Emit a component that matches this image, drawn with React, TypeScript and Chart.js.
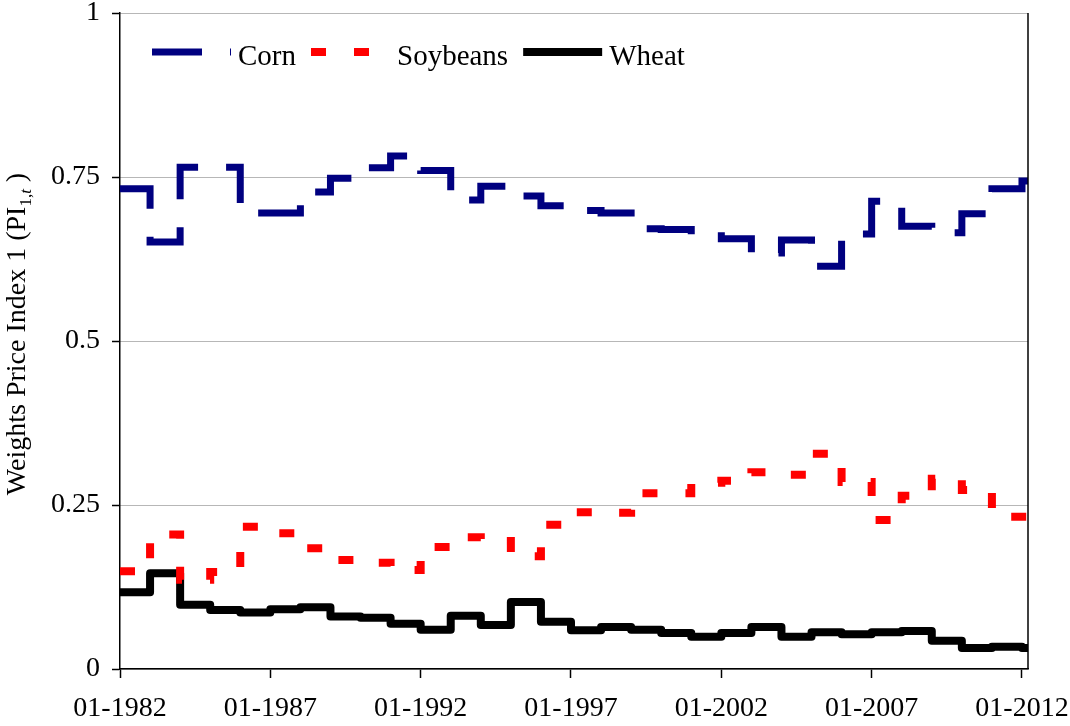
import React, { useEffect, useRef } from "react";
import { Chart, registerables } from "chart.js";

Chart.register(...registerables);

// ---- data (annual weights) ----
const years = [
  1982, 1983, 1984, 1985, 1986, 1987, 1988, 1989, 1990, 1991,
  1992, 1993, 1994, 1995, 1996, 1997, 1998, 1999, 2000, 2001,
  2002, 2003, 2004, 2005, 2006, 2007, 2008, 2009, 2010, 2011, 2012,
];
const endYear = 2012.2; // last observation (early 2012)
const tickYears = [1982, 1987, 1992, 1997, 2002, 2007, 2012];

const corn = [
  0.732, 0.651, 0.765, 0.765, 0.695, 0.695, 0.727, 0.748, 0.764, 0.782,
  0.760, 0.715, 0.736, 0.721, 0.706, 0.699, 0.695, 0.671, 0.670, 0.668,
  0.656, 0.634, 0.654, 0.614, 0.663, 0.713, 0.675, 0.665, 0.694, 0.732, 0.744,
];
const soybeans = [
  0.149, 0.205, 0.136, 0.148, 0.217, 0.207, 0.184, 0.166, 0.162, 0.151,
  0.186, 0.201, 0.195, 0.172, 0.220, 0.239, 0.238, 0.268, 0.268, 0.284,
  0.287, 0.300, 0.296, 0.328, 0.285, 0.227, 0.264, 0.290, 0.273, 0.232, 0.232,
];
const wheat = [
  0.117, 0.146, 0.098, 0.090, 0.086, 0.091, 0.094, 0.080, 0.078, 0.069,
  0.060, 0.081, 0.067, 0.102, 0.072, 0.059, 0.064, 0.060, 0.055, 0.049,
  0.055, 0.064, 0.049, 0.056, 0.053, 0.056, 0.058, 0.043, 0.032, 0.034, 0.032,
];
const seriesNames = ["Corn", "Soybeans", "Wheat"];

const FONT = '"Liberation Serif", "Times New Roman", serif';

function toPoints(vals: number[]) {
  const xs = [...years, endYear];
  const ys = [...vals, vals[vals.length - 1]];
  return xs.map((x, i) => ({ x, y: ys[i] }));
}

const overlayPlugin = {
  id: "overlay",
  afterDraw(chart: any) {
    const { ctx, chartArea: a } = chart;
    ctx.save();
    // right frame line
    ctx.strokeStyle = "#000";
    ctx.lineWidth = 1.5;
    ctx.beginPath();
    ctx.moveTo(a.right, a.top);
    ctx.lineTo(a.right, a.bottom);
    ctx.stroke();

    // legend inside plot
    ctx.font = `29px ${FONT}`;
    ctx.textBaseline = "alphabetic";
    ctx.textAlign = "left";
    let x = a.left + 32;
    const yLine = a.top + 39;
    const baseline = a.top + 52;
    chart.data.datasets.forEach((ds: any) => {
      ctx.save();
      ctx.strokeStyle = ds.borderColor;
      ctx.lineWidth = ds.borderWidth;
      ctx.setLineDash(ds.borderDash || []);
      ctx.lineCap = "butt";
      ctx.beginPath();
      ctx.moveTo(x, yLine);
      ctx.lineTo(x + 79, yLine);
      ctx.stroke();
      ctx.restore();
      x += 79 + 7;
      ctx.fillStyle = "#000";
      ctx.fillText(ds.label, x, baseline);
      x += ctx.measureText(ds.label).width + 15;
    });

    // y axis title with subscript
    const cy = (a.top + a.bottom) / 2 - 7;
    ctx.translate(25, cy);
    ctx.rotate(-Math.PI / 2);
    ctx.fillStyle = "#000";
    const big = `28px ${FONT}`;
    const small = `17px ${FONT}`;
    const smallIt = `italic 17px ${FONT}`;
    const parts = [
      { t: "Weights Price Index 1 (PI", f: big, dy: 0 },
      { t: "1,", f: small, dy: 6 },
      { t: "t", f: smallIt, dy: 6 },
      { t: " )", f: big, dy: 0 },
    ];
    let total = 0;
    parts.forEach((p) => {
      ctx.font = p.f;
      total += ctx.measureText(p.t).width;
    });
    let tx = -total / 2;
    parts.forEach((p) => {
      ctx.font = p.f;
      ctx.fillText(p.t, tx, p.dy);
      tx += ctx.measureText(p.t).width;
    });
    ctx.restore();
  },
};

export default function App() {
  const ref = useRef<HTMLCanvasElement | null>(null);
  useEffect(() => {
    if (!ref.current) return;
    const chart = new Chart(ref.current, {
      type: "line",
      data: {
        datasets: [
          {
            label: seriesNames[0],
            data: toPoints(corn),
            borderColor: "#000080",
            backgroundColor: "#000080",
            borderWidth: 7,
            borderDash: [50, 28],
            borderCapStyle: "butt",
            borderJoinStyle: "miter",
            stepped: "before",
            pointRadius: 0,
            fill: false,
          },
          {
            label: seriesNames[1],
            data: toPoints(soybeans),
            borderColor: "#ff0000",
            backgroundColor: "#ff0000",
            borderWidth: 8,
            borderDash: [15, 28],
            borderCapStyle: "butt",
            borderJoinStyle: "miter",
            stepped: "before",
            pointRadius: 0,
            fill: false,
          },
          {
            label: seriesNames[2],
            data: toPoints(wheat),
            borderColor: "#000000",
            backgroundColor: "#000000",
            borderWidth: 8,
            borderCapStyle: "butt",
            borderJoinStyle: "round",
            stepped: "before",
            pointRadius: 0,
            fill: false,
          },
        ],
      },
      options: {
        animation: false,
        responsive: true,
        maintainAspectRatio: false,
        layout: { padding: { top: 13, right: 42, left: 0, bottom: 0 }, autoPadding: false },
        plugins: {
          legend: { display: false },
          tooltip: { enabled: false },
          title: { display: false },
        },
        scales: {
          x: {
            type: "linear",
            min: years[0],
            max: endYear,
            afterBuildTicks: (axis: any) => {
              axis.ticks = tickYears.map((value) => ({ value }));
            },
            afterFit: (s: any) => {
              s.height = 57;
              s.paddingLeft = 0;
              s.paddingRight = 0;
              s.paddingTop = 0;
              s.paddingBottom = 0;
            },
            ticks: {
              autoSkip: false,
              maxRotation: 0,
              padding: 14,
              color: "#000",
              font: { family: FONT, size: 28 },
              callback: (v: any) => "01-" + v,
            },
            grid: {
              drawOnChartArea: false,
              drawTicks: true,
              tickLength: 9,
              tickColor: "#000",
              tickWidth: 1.5,
            },
            border: { color: "#000", width: 1.5 },
          },
          y: {
            min: 0,
            max: 1,
            afterFit: (s: any) => {
              s.width = 120;
              s.paddingLeft = 0;
              s.paddingRight = 0;
              s.paddingTop = 0;
              s.paddingBottom = 0;
            },
            ticks: {
              stepSize: 0.25,
              padding: 12,
              color: "#000",
              font: { family: FONT, size: 28 },
              callback: (v: any) => String(v),
            },
            grid: {
              color: "#6e6e6e",
              lineWidth: 1,
              drawTicks: true,
              tickLength: 8,
              tickColor: "#000",
              tickWidth: 1.5,
            },
            border: { color: "#000", width: 1.5, dash: [1, 1] },
          },
        },
      },
      plugins: [overlayPlugin],
    });
    return () => chart.destroy();
  }, []);
  return (
    <div style={{ position: "absolute", left: 0, top: 0, width: 1070, height: 726, background: "#fff" }}>
      <canvas ref={ref} />
    </div>
  );
}
